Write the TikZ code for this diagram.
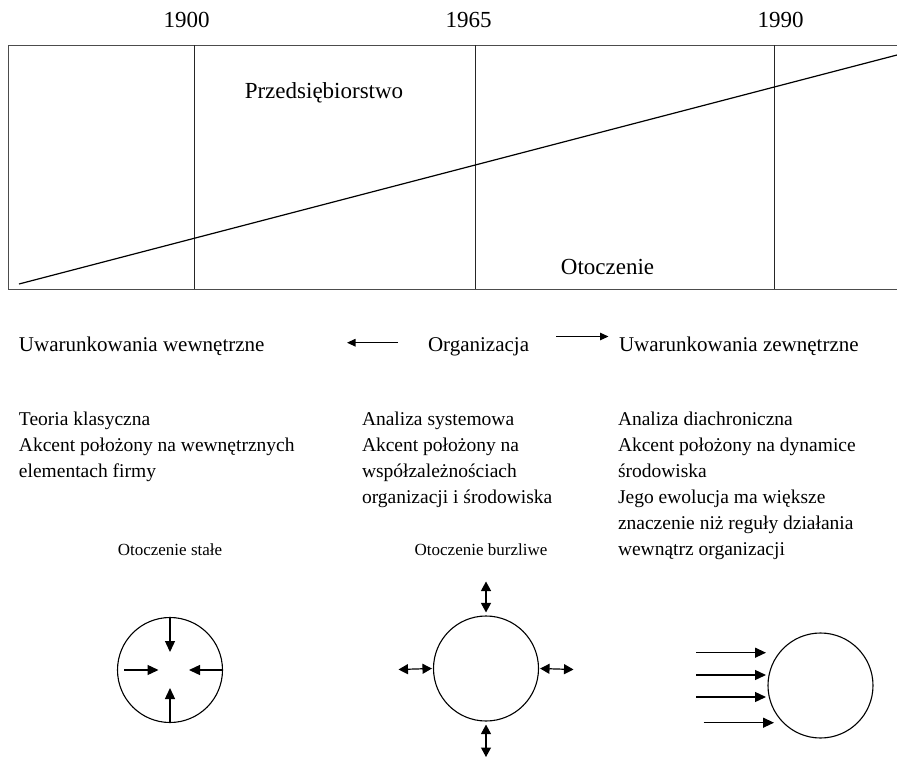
\documentclass[tikz,border=0pt]{standalone}
\usepackage{fontspec}
\setmainfont{Liberation Serif}
\usetikzlibrary{arrows.meta}
\begin{document}
\begin{tikzpicture}[x=1pt,y=-1pt,
  lbl/.style={inner sep=0pt, outer sep=0pt},
  big/.style={lbl, font=\fontsize{23}{27}\selectfont, anchor=base},
  headtxt/.style={lbl, font=\fontsize{21}{25}\selectfont, anchor=base west},
  body/.style={lbl, font=\fontsize{19.5}{26}\selectfont, anchor=base west},
  small/.style={lbl, font=\fontsize{17}{20}\selectfont, anchor=base},
  frame/.style={draw=black!70, line width=1pt},
  divider/.style={draw=black!85, line width=0.8pt},
  trend/.style={draw, line width=1.2pt},
  ring/.style={draw, circle, minimum size=105pt, inner sep=0pt, line width=1.1pt},
  arr/.style={line width=1.3pt, -{Triangle[length=11pt,width=10pt]}},
  darr/.style={line width=1.2pt, {Triangle[length=9.5pt,width=10pt]}-{Triangle[length=9.5pt,width=10pt]}},
  harr/.style={line width=1.2pt, -{Triangle[length=8.5pt,width=7.5pt]}},
]
\useasboundingbox (0,0) rectangle (897,757);

% frame
\coordinate (tl) at (8,45.5);
\coordinate (tr) at (897,45.5);
\coordinate (bl) at (8,289);
\coordinate (br) at (897,289);
\draw[frame] (tr) -- (tl) -- (bl) -- (br);
\coordinate (v1t) at (194.5,45.5); \coordinate (v1b) at (194.5,289);
\coordinate (v2t) at (475,45.5);   \coordinate (v2b) at (475,289);
\coordinate (v3t) at (774,45.5);   \coordinate (v3b) at (774,289);
\draw[divider] (v1t) -- (v1b);
\draw[divider] (v2t) -- (v2b);
\draw[divider] (v3t) -- (v3b);
\coordinate (ds) at (19,284);
\coordinate (de) at (897,55);
\draw[trend] (ds) -- (de);

% year labels
\node[big] (y1900) at (186.5,27.7) {1900};
\node[big] (y1965) at (468.5,27.7) {1965};
\node[big] (y1990) at (780.5,27.7) {1990};
\node[big] (firm) at (324,99) {Przedsiębiorstwo};
\node[big] (env) at (607.5,274) {Otoczenie};

% header row
\node[headtxt] (uw) at (19,351) {Uwarunkowania wewnętrzne};
\node[headtxt] (org) at (428,351) {Organizacja};
\node[headtxt] (uz) at (619,351) {Uwarunkowania zewnętrzne};
\coordinate (la1) at (398,342.7); \coordinate (la2) at (347,342.7);
\coordinate (ra1) at (556,336.5); \coordinate (ra2) at (608.5,336.5);
\draw[harr] (la1) -- (la2);
\draw[harr] (ra1) -- (ra2);

% text columns
\node[body] (l1) at (19,425.5) {Teoria klasyczna};
\node[body] (l2) at (19,451.5) {Akcent położony na wewnętrznych};
\node[body] (l3) at (19,477.5) {elementach firmy};

\node[body] (m1) at (362,425.5) {Analiza systemowa};
\node[body] (m2) at (362,451.5) {Akcent położony na};
\node[body] (m3) at (362,477.5) {współzależnościach};
\node[body] (m4) at (362,503.5) {organizacji i środowiska};

\node[body] (r1) at (618,425.5) {Analiza diachroniczna};
\node[body] (r2) at (618,451.5) {Akcent położony na dynamice};
\node[body] (r3) at (618,477.5) {środowiska};
\node[body] (r4) at (618,503.5) {Jego ewolucja ma większe};
\node[body] (r5) at (618,529.5) {znaczenie niż reguły działania};
\node[body] (r6) at (618,555.5) {wewnątrz organizacji};

\node[small] (s1) at (170,555) {Otoczenie stałe};
\node[small] (s2) at (481,555) {Otoczenie burzliwe};

% circle 1: stable environment
\node[ring] (c1) at (170,670) {};
\coordinate (c1t) at (170,652);
\coordinate (c1b) at (170,688);
\coordinate (c1l0) at (124,670); \coordinate (c1l) at (158.5,670);
\coordinate (c1r) at (189,670);
\draw[arr] (c1.north) -- (c1t);
\draw[arr] (c1.south) -- (c1b);
\draw[arr] (c1l0) -- (c1l);
\draw[arr] (c1.east) -- (c1r);

% circle 2: turbulent environment
\node[ring] (c2) at (486,668.5) {};
\coordinate (c2t) at (486,581.5);
\coordinate (c2b) at (486,757);
\coordinate (c2l) at (398.5,669.5);
\coordinate (c2r) at (573.5,669.5);
\draw[darr] (c2t) -- ([yshift=3pt]c2.north);
\draw[darr] ([yshift=-3pt]c2.south) -- (c2b);
\draw[darr] (c2l) -- ([xshift=-1pt]c2.west);
\draw[darr] ([xshift=1pt]c2.east) -- (c2r);

% circle 3: external pressure
\node[ring] (c3) at (820.5,685.5) {};
\coordinate (a1s) at (696,652.7); \coordinate (a1e) at (766,652.7);
\coordinate (a2s) at (696,675);   \coordinate (a2e) at (766,675);
\coordinate (a3s) at (696,697);   \coordinate (a3e) at (766,697);
\coordinate (a4s) at (703.5,722.7); \coordinate (a4e) at (774,722.7);
\draw[arr] (a1s) -- (a1e);
\draw[arr] (a2s) -- (a2e);
\draw[arr] (a3s) -- (a3e);
\draw[arr] (a4s) -- (a4e);
\end{tikzpicture}
\end{document}
